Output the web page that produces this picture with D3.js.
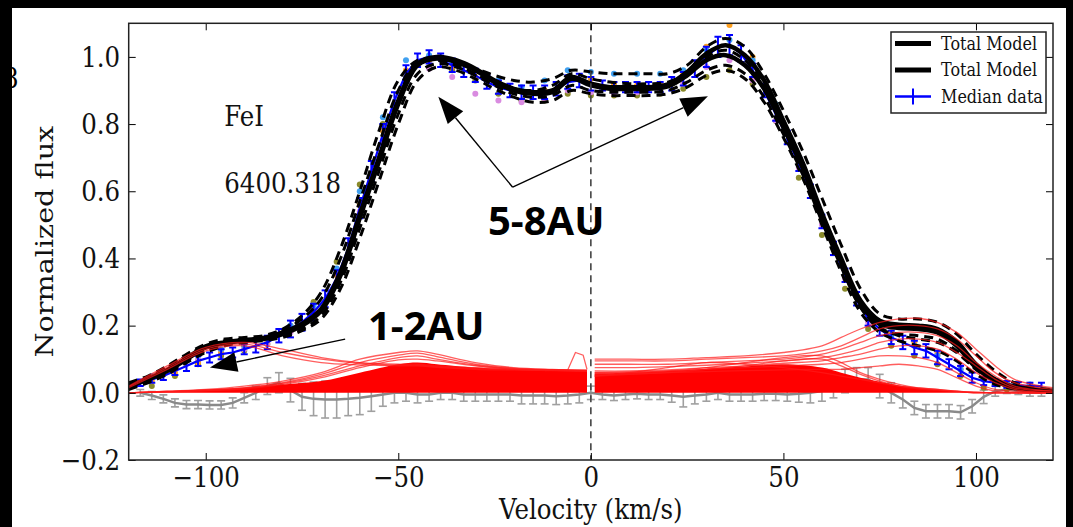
<!DOCTYPE html>
<html>
<head>
<meta charset="utf-8">
<script src="https://cdn.jsdelivr.net/npm/d3@7"></script>
<style>
  body { margin: 0; background: #000; }
  svg text { font-family: "DejaVu Serif", serif; }
</style>
</head>
<body>
<svg id="chart"></svg>
<script>
// ---- data ----
const xTicks = [-100, -50, 0, 50, 100];
const yTicks = [-0.2, 0.0, 0.2, 0.4, 0.6, 0.8, 1.0];

// model grid (km/s)
const modelV = [-120,-115,-110,-105,-100,-95,-90,-85,-80,-75,-70,-65,-60,-55,-50,-45,-40,-35,-30,-25,
  -20,-15,-10,-5,0,5,10,15,20,25,30,35,40,45,50,55,60,65,70,75,80,85,90,95,100,105,110,115,120];

// two "Total Model" curves (solid)
const totalModelA = [0.02,0.04,0.065,0.10,0.135, 0.148,0.155,0.16,0.175,0.20, 0.245,0.35,0.52,0.69,0.86,
  0.975,0.995,0.985,0.96,0.925, 0.90,0.89,0.895,0.935,0.915, 0.905,0.905,0.905,0.912,0.945,
  0.99,1.005,0.975,0.905,0.79, 0.67,0.52,0.39,0.265,0.205, 0.193,0.19,0.18,0.14,0.075, 0.035,0.015,0.008,0.005];
const totalModelB = [0.02,0.042,0.068,0.102,0.138, 0.15,0.157,0.163,0.18,0.205, 0.25,0.36,0.53,0.70,0.87,
  0.98,1.0,0.99,0.965,0.93, 0.905,0.895,0.9,0.94,0.92, 0.91,0.91,0.91,0.918,0.955,
  1.01,1.035,1.005,0.93,0.81, 0.685,0.535,0.4,0.275,0.215, 0.203,0.2,0.19,0.152,0.085, 0.04,0.018,0.01,0.006];

// per-epoch model fits (dashed)
const epochModel1 = [0.03,0.05,0.08,0.115,0.145, 0.16,0.165,0.17,0.19,0.23, 0.30,0.43,0.60,0.78,0.93,
  0.99,0.995,0.98,0.965,0.945, 0.93,0.925,0.935,0.96,0.955, 0.95,0.95,0.95,0.95,0.975,
  1.03,1.055,1.03,0.95,0.84, 0.72,0.58,0.44,0.31,0.235, 0.22,0.22,0.21,0.175,0.115, 0.065,0.03,0.015,0.01];
const epochModel2 = [0.01,0.03,0.055,0.09,0.12, 0.14,0.15,0.155,0.165,0.185, 0.22,0.31,0.46,0.63,0.80,
  0.93,0.97,0.96,0.935,0.905, 0.88,0.865,0.87,0.9,0.89, 0.885,0.885,0.885,0.89,0.91,
  0.945,0.96,0.935,0.865,0.76, 0.64,0.50,0.36,0.24,0.18, 0.155,0.14,0.125,0.095,0.055, 0.025,0.012,0.008,0.005];
const epochModel3 = [0.02,0.045,0.075,0.11,0.14, 0.155,0.16,0.165,0.185,0.22, 0.28,0.40,0.57,0.74,0.90,
  0.985,0.99,0.975,0.95,0.92, 0.905,0.90,0.915,0.95,0.935, 0.925,0.92,0.92,0.925,0.955,
  1.0,1.02,0.99,0.915,0.80, 0.67,0.52,0.38,0.255,0.195, 0.17,0.16,0.15,0.12,0.07, 0.035,0.015,0.01,0.006];
const epochModel4 = [0.015,0.035,0.06,0.095,0.125, 0.145,0.152,0.158,0.17,0.19, 0.23,0.33,0.49,0.66,0.83,
  0.95,0.98,0.97,0.945,0.915, 0.89,0.88,0.885,0.915,0.9, 0.895,0.895,0.895,0.9,0.925,
  0.96,0.975,0.95,0.88,0.77, 0.65,0.51,0.375,0.255,0.19, 0.175,0.17,0.16,0.125,0.07, 0.035,0.015,0.01,0.006];

// observed grid (km/s)
const obsV = [-117,-114,-111,-108,-105,-102,-99,-96,-93,-90,-87,-84,-81,-78,-75,-72,-69,-66,-63,-60,
  -57,-54,-51,-48,-45,-42,-39,-36,-33,-30,-27,-24,-21,-18,-15,-12,-9,-6,-3,0,
  3,6,9,12,15,18,21,24,27,30,33,36,39,42,45,48,51,54,57,60,
  63,66,69,72,75,78,81,84,87,90,93,96,99,102,105,108,111,114,117];

const medianFlux = [0.03,0.04,0.05,0.065,0.08,0.095,0.105,0.115,0.12,0.13,
  0.14,0.15,0.17,0.19,0.21,0.24,0.28,0.34,0.43,0.55,
  0.66,0.77,0.87,0.95,0.99,1.0,0.99,0.975,0.96,0.945,
  0.925,0.91,0.9,0.895,0.895,0.895,0.905,0.925,0.93,0.92,
  0.915,0.91,0.91,0.91,0.91,0.91,0.92,0.935,0.965,1.0,
  1.03,1.035,1.01,0.96,0.9,0.83,0.76,0.68,0.6,0.51,
  0.43,0.35,0.28,0.22,0.19,0.165,0.15,0.135,0.125,0.105,
  0.085,0.065,0.045,0.035,0.03,0.025,0.022,0.02,0.02];
const medianErr = [0.01,0.01,0.012,0.012,0.015,0.015,0.015,0.015,0.015,0.015,
  0.02,0.02,0.02,0.025,0.025,0.025,0.025,0.025,0.03,0.03,
  0.03,0.03,0.025,0.025,0.02,0.02,0.02,0.02,0.02,0.02,
  0.02,0.02,0.02,0.02,0.02,0.02,0.02,0.02,0.02,0.02,
  0.015,0.015,0.015,0.015,0.015,0.015,0.02,0.02,0.025,0.03,
  0.03,0.03,0.025,0.02,0.02,0.02,0.02,0.02,0.02,0.02,
  0.02,0.02,0.02,0.02,0.02,0.02,0.02,0.02,0.02,0.02,
  0.015,0.015,0.015,0.012,0.01,0.01,0.01,0.01,0.01];

const residFlux = [0.0,-0.008,-0.018,-0.03,-0.035,-0.035,-0.036,-0.036,-0.03,-0.015,
  0.0,0.02,0.03,0.008,-0.012,-0.018,-0.02,-0.02,-0.018,-0.015,
  -0.01,-0.005,0.0,0.0,-0.005,-0.005,0.0,0.0,-0.005,-0.005,
  -0.005,-0.005,-0.005,-0.008,-0.008,-0.008,-0.01,-0.008,-0.005,0.0,
  -0.005,-0.008,-0.005,-0.003,-0.005,-0.005,-0.008,-0.012,-0.008,-0.005,
  0.0,-0.005,-0.005,-0.005,-0.003,-0.003,-0.005,-0.003,0.0,0.005,
  0.02,0.035,0.04,0.04,0.02,0.0,-0.02,-0.045,-0.055,-0.055,
  -0.055,-0.058,-0.04,-0.012,0.005,0.01,0.005,0.0,0.0];
const residErr = [0.01,0.012,0.012,0.012,0.012,0.012,0.012,0.012,0.015,0.015,
  0.02,0.025,0.03,0.035,0.04,0.05,0.055,0.055,0.05,0.05,
  0.045,0.035,0.03,0.025,0.025,0.02,0.02,0.02,0.02,0.02,
  0.02,0.02,0.02,0.025,0.025,0.025,0.025,0.025,0.025,0.02,
  0.015,0.015,0.015,0.015,0.015,0.015,0.02,0.03,0.025,0.02,
  0.02,0.02,0.02,0.02,0.02,0.02,0.02,0.025,0.03,0.03,
  0.035,0.035,0.035,0.035,0.035,0.03,0.025,0.02,0.02,0.02,
  0.02,0.02,0.02,0.02,0.015,0.012,0.01,0.01,0.01];

// individual epochs (dots)
const dotV = [-114,-108,-102,-96,-90,-84,-78,-72,-66,-60,-54,-48,-42,-36,-30,-24,-18,-12,-6,0,
  6,12,18,24,30,36,42,48,54,60,66,72,78,84,90,96,102,108,114];
const epochSky = [0.05,0.075,0.11,0.13,0.14,0.16,0.2,0.26,0.37,0.6, 0.82,0.99,1.005,0.985,0.96,0.93,0.91,0.93,0.96,0.955,
  0.95,0.95,0.95,0.96,1.02,1.05,0.99,0.86,0.7,0.53, 0.36,0.23,0.17,0.14,0.11,0.07,0.04,0.03,0.025];
const epochOrange = [0.035,0.06,0.09,0.12,0.14,0.155,0.195,0.245,0.35,0.56, 0.78,0.96,0.99,0.97,0.94,0.915,0.9,0.9,0.93,0.935,
  0.92,0.915,0.92,0.95,1.03,1.095,1.0,0.86,0.69,0.52, 0.36,0.23,0.18,0.15,0.115,0.07,0.04,0.025,0.02];
const epochPink = [0.045,0.07,0.1,0.12,0.13,0.145,0.18,0.23,0.33,0.54, 0.75,0.93,0.965,0.94,0.89,0.87,0.865,0.875,0.9,0.895,
  0.89,0.895,0.9,0.92,0.97,0.99,0.93,0.81,0.67,0.5, 0.34,0.21,0.16,0.14,0.12,0.08,0.06,0.03,0.02];
const epochOlive = [0.02,0.05,0.085,0.11,0.125,0.145,0.2,0.27,0.39,0.62, 0.8,0.94,0.97,0.96,0.93,0.89,0.87,0.87,0.89,0.885,
  0.885,0.885,0.89,0.905,0.94,0.96,0.92,0.81,0.64,0.47, 0.31,0.19,0.14,0.11,0.085,0.05,0.015,0.01,0.01];

// ring components (red), blue-shifted half and red-shifted half
const redLeftV = [-120,-110,-100,-90,-80,-70,-60,-50,-45,-40,-30,-20,-10,-1];
const redBandLeft = [0,0.005,0.01,0.015,0.025,0.035,0.06,0.085,0.09,0.085,0.075,0.07,0.068,0.065];
const redLinesLeft = [
  [0.02,0.08,0.135,0.15,0.13,0.105,0.09,0.085,0.085,0.08,0.075,0.07,0.068,0.066],
  [0.018,0.075,0.13,0.145,0.12,0.1,0.088,0.082,0.082,0.078,0.072,0.069,0.067,0.065],
  [0.015,0.07,0.125,0.14,0.11,0.09,0.083,0.08,0.08,0.076,0.07,0.068,0.066,0.064],
  [0,0.005,0.01,0.02,0.035,0.06,0.1,0.12,0.125,0.115,0.09,0.075,0.07,0.068],
  [0,0.004,0.008,0.015,0.03,0.055,0.09,0.112,0.118,0.108,0.085,0.073,0.069,0.066],
  [0,0.004,0.008,0.015,0.028,0.05,0.08,0.105,0.11,0.1,0.082,0.072,0.068,0.066],
  [0,0.003,0.006,0.012,0.025,0.045,0.075,0.098,0.1,0.095,0.08,0.07,0.067,0.065]
];
const redSpike = [[-12,0.066],[-6,0.068],[-4,0.12],[-2,0.112],[-1,0.07]];

const redRightV = [1,10,20,30,40,50,60,65,70,75,80,85,90,95,100,105,110,120];
const redBandRight = [0.058,0.06,0.065,0.072,0.078,0.085,0.075,0.06,0.045,0.033,0.022,0.014,0.009,0.005,0.003,0.001,0,0];
const redLinesRight = [
  [0.1,0.1,0.1,0.105,0.11,0.12,0.14,0.165,0.19,0.21,0.22,0.222,0.21,0.18,0.13,0.08,0.04,0.015],
  [0.095,0.095,0.095,0.1,0.105,0.11,0.125,0.14,0.165,0.19,0.2,0.2,0.19,0.16,0.11,0.06,0.03,0.01],
  [0.085,0.085,0.085,0.09,0.095,0.1,0.115,0.13,0.15,0.17,0.18,0.18,0.17,0.14,0.09,0.05,0.02,0.005],
  [0.075,0.075,0.078,0.082,0.088,0.095,0.105,0.115,0.13,0.15,0.16,0.16,0.15,0.12,0.08,0.04,0.015,0.005],
  [0.065,0.065,0.068,0.075,0.08,0.088,0.095,0.105,0.115,0.13,0.14,0.14,0.13,0.1,0.06,0.03,0.01,0],
  [0.06,0.062,0.065,0.07,0.075,0.08,0.085,0.09,0.1,0.11,0.11,0.105,0.09,0.06,0.03,0.01,0.005,0],
  [0.055,0.057,0.06,0.063,0.066,0.068,0.07,0.07,0.075,0.08,0.085,0.08,0.07,0.045,0.02,0.005,0,0],
  [0.06,0.06,0.065,0.075,0.09,0.105,0.11,0.09,0.06,0.04,0.025,0.015,0.01,0.005,0,0,0,0],
  [0.05,0.055,0.06,0.07,0.08,0.095,0.1,0.08,0.055,0.035,0.02,0.012,0.008,0.004,0.002,0,0,0],
  [0.05,0.06,0.075,0.09,0.085,0.075,0.06,0.05,0.04,0.03,0.02,0.015,0.01,0.005,0,0,0,0]
];

// annotation anchors in data units [v, flux]
const arrowTail58 = [-20.3, 0.612];
const arrowTips58 = [[-39.6, 0.881], [30.4, 0.883]];
const arrowTail12 = [-63.8, 0.16];
const arrowTip12 = [-98.9, 0.075];

const K = 1.17; // the source figure was stretched vertically

class ProfilePlot {
  constructor(_config) {
    this.config = {
      parentElement: _config.parentElement,
      containerWidth: _config.containerWidth || 1073,
      containerHeight: _config.containerHeight || 527,
      margin: _config.margin || {top: 23.3, right: 20, bottom: 67, left: 128.7}
    };
    this.initVis();
  }

  initVis() {
    let vis = this;
    vis.width = vis.config.containerWidth - vis.config.margin.left - vis.config.margin.right;
    vis.height = vis.config.containerHeight - vis.config.margin.top - vis.config.margin.bottom;

    vis.xScale = d3.scaleLinear().domain([-120, 120]).range([0, vis.width]);
    vis.yScale = d3.scaleLinear().domain([-0.2, 1.1]).range([vis.height, 0]);

    vis.svg = d3.select(vis.config.parentElement)
        .attr('width', vis.config.containerWidth)
        .attr('height', vis.config.containerHeight);

    // black frame around the white page
    vis.svg.append('rect').attr('width', vis.config.containerWidth).attr('height', vis.config.containerHeight).attr('fill', '#000');
    vis.svg.append('rect').attr('x', 12).attr('y', 8).attr('width', 1054).attr('height', 519).attr('fill', '#fff');
    // cut-off panel letter from the neighbouring figure
    vis.svg.append('text').attr('transform', `translate(3,88) scale(1,${K})`)
        .attr('font-size', 24.5).attr('fill', '#000').text('8');

    vis.chart = vis.svg.append('g')
        .attr('transform', `translate(${vis.config.margin.left},${vis.config.margin.top})`);

    vis.chart.append('clipPath').attr('id', 'plot-clip')
      .append('rect').attr('width', vis.width).attr('height', vis.height);

    vis.plot = vis.chart.append('g').attr('clip-path', 'url(#plot-clip)');
  }

  errorBars(g, vs, fs, es, color, cap, lw) {
    let vis = this;
    const pts = vs.map((v, i) => ({v: v, f: fs[i], e: es[i]}));
    const eg = g.append('g').attr('stroke', color).attr('stroke-width', lw);
    eg.selectAll('.bar').data(pts).join('line')
        .attr('x1', d => vis.xScale(d.v)).attr('x2', d => vis.xScale(d.v))
        .attr('y1', d => vis.yScale(d.f - d.e)).attr('y2', d => vis.yScale(d.f + d.e));
    eg.selectAll('.capLo').data(pts).join('line')
        .attr('x1', d => vis.xScale(d.v) - cap).attr('x2', d => vis.xScale(d.v) + cap)
        .attr('y1', d => vis.yScale(d.f - d.e)).attr('y2', d => vis.yScale(d.f - d.e));
    eg.selectAll('.capHi').data(pts).join('line')
        .attr('x1', d => vis.xScale(d.v) - cap).attr('x2', d => vis.xScale(d.v) + cap)
        .attr('y1', d => vis.yScale(d.f + d.e)).attr('y2', d => vis.yScale(d.f + d.e));
  }

  renderVis() {
    let vis = this;
    const x = vis.xScale, y = vis.yScale;
    const zip = (vs, fs) => vs.map((v, i) => [v, fs[i]]);
    const smooth = d3.line().x(d => x(d[0])).y(d => y(d[1])).curve(d3.curveCatmullRom.alpha(0.5));
    const straight = d3.line().x(d => x(d[0])).y(d => y(d[1]));

    // residuals (grey)
    vis.errorBars(vis.plot, obsV, residFlux, residErr, '#a0a0a0', 4, 1.6);
    vis.plot.append('path').attr('d', straight(zip(obsV, residFlux)))
        .attr('fill', 'none').attr('stroke', '#8a8a8a').attr('stroke-width', 2.5);

    // individual epochs
    const epochs = [
      {vals: epochOlive, color: '#8a8a2a'},
      {vals: epochPink, color: '#d98be0'},
      {vals: epochOrange, color: '#ffa01e'},
      {vals: epochSky, color: '#3fa0f0'}
    ];
    epochs.forEach(ep => {
      vis.plot.append('g').selectAll('circle').data(zip(dotV, ep.vals)).join('circle')
          .attr('cx', d => x(d[0])).attr('cy', d => y(d[1])).attr('r', 3)
          .attr('fill', ep.color);
    });

    // median data
    vis.errorBars(vis.plot, obsV, medianFlux, medianErr, '#0000ff', 3.5, 2);
    vis.plot.append('path').attr('d', straight(zip(obsV, medianFlux)))
        .attr('fill', 'none').attr('stroke', '#0000ff').attr('stroke-width', 2.2);

    // per-epoch fits (dashed)
    [epochModel1, epochModel2, epochModel3, epochModel4].forEach(m => {
      vis.plot.append('path').attr('d', smooth(zip(modelV, m)))
          .attr('fill', 'none').attr('stroke', '#000').attr('stroke-width', 3)
          .attr('stroke-dasharray', '9,6');
    });

    // total models
    [totalModelA, totalModelB].forEach(m => {
      vis.plot.append('path').attr('d', smooth(zip(modelV, m)))
          .attr('fill', 'none').attr('stroke', '#000').attr('stroke-width', 4.5);
    });

    // ring components (red)
    const area = d3.area().x(d => x(d[0])).y0(y(0)).y1(d => y(d[1])).curve(d3.curveCatmullRom.alpha(0.5));
    vis.plot.append('path').attr('d', area(zip(redLeftV, redBandLeft))).attr('fill', '#ff0000');
    vis.plot.append('path').attr('d', area(zip(redRightV, redBandRight))).attr('fill', '#ff0000');
    const redG = vis.plot.append('g').attr('fill', 'none').attr('stroke', '#ff1a1a')
        .attr('stroke-width', 1.3).attr('stroke-opacity', 0.7);
    redLinesLeft.forEach(l => redG.append('path').attr('d', smooth(zip(redLeftV, l))));
    redLinesRight.forEach(l => redG.append('path').attr('d', smooth(zip(redRightV, l))));
    redG.append('path').attr('d', straight(redSpike));

    // v = 0 marker
    vis.plot.append('line')
        .attr('x1', x(0)).attr('x2', x(0)).attr('y1', 0).attr('y2', vis.height)
        .attr('stroke', '#444').attr('stroke-width', 1.6).attr('stroke-dasharray', '7,5');

    // axes, ticks inside on all four sides
    const fmtY = d3.format('.1f');
    const xAxis = d3.axisBottom(x).tickValues(xTicks).tickSizeInner(-7).tickSizeOuter(0).tickPadding(7);
    const xAxisTop = d3.axisTop(x).tickValues(xTicks).tickSizeInner(-7).tickSizeOuter(0).tickFormat('');
    const yAxis = d3.axisLeft(y).tickValues(yTicks).tickSizeInner(-7).tickSizeOuter(0).tickPadding(8.5).tickFormat(fmtY);
    const yAxisRight = d3.axisRight(y).tickValues(yTicks).tickSizeInner(-7).tickSizeOuter(0).tickFormat('');

    const axisStyle = g => {
      g.select('.domain').remove();
      g.attr('font-family', null).attr('font-size', 24.5);
      g.selectAll('.tick line').attr('stroke', '#000').attr('stroke-width', 1);
      g.selectAll('.tick text').attr('fill', '#111').each(function() {
        const t = d3.select(this);
        const tx = +t.attr('x') || 0, ty = +t.attr('y') || 0;
        t.attr('x', 0).attr('y', 0).attr('transform', `translate(${tx},${ty}) scale(1,${K})`);
      });
    };
    vis.chart.append('g').attr('transform', `translate(0,${vis.height})`).call(xAxis).call(axisStyle);
    vis.chart.append('g').call(xAxisTop).call(axisStyle);
    vis.chart.append('g').call(yAxis).call(axisStyle);
    vis.chart.append('g').attr('transform', `translate(${vis.width},0)`).call(yAxisRight).call(axisStyle);

    vis.chart.append('rect').attr('width', vis.width).attr('height', vis.height)
        .attr('fill', 'none').attr('stroke', '#222').attr('stroke-width', 1.5);

    // axis titles
    vis.chart.append('text')
        .attr('transform', `translate(${vis.width / 2},${496}) scale(1,${K})`)
        .attr('text-anchor', 'middle').attr('font-size', 24.5).attr('fill', '#111')
        .text('Velocity (km/s)');
    vis.chart.append('text')
        .attr('transform', `translate(${53 - vis.config.margin.left},${vis.height / 2}) rotate(-90) scale(${K},1)`)
        .attr('text-anchor', 'middle').attr('font-size', 24.5).attr('fill', '#111')
        .text('Normalized flux');

    // line labels
    vis.chart.append('text').attr('transform', `translate(${x(-95.2)},${y(0.793)}) scale(1,${K})`)
        .attr('font-size', 24.5).attr('fill', '#111').text('FeI');
    vis.chart.append('text').attr('transform', `translate(${x(-95.2)},${y(0.596)}) scale(1,${K})`)
        .attr('font-size', 24.5).attr('fill', '#111').text('6400.318');

    // arrows
    const arrow = (tail, tip) => {
      const x0 = x(tail[0]), y0 = y(tail[1]), x1 = x(tip[0]), y1 = y(tip[1]);
      const ang = Math.atan2(y1 - y0, x1 - x0);
      const L = 27, hw = 10;
      const bx = x1 - L * Math.cos(ang), by = y1 - L * Math.sin(ang);
      vis.chart.append('line').attr('x1', x0).attr('y1', y0).attr('x2', bx).attr('y2', by)
          .attr('stroke', '#000').attr('stroke-width', 1.4);
      const px = -Math.sin(ang) * hw, py = Math.cos(ang) * hw;
      vis.chart.append('path')
          .attr('d', `M${x1},${y1}L${bx + px},${by + py}L${bx - px},${by - py}Z`)
          .attr('fill', '#000');
    };
    arrowTips58.forEach(t => arrow(arrowTail58, t));
    arrow(arrowTail12, arrowTip12);

    const bold = vis.chart.append('g').attr('font-weight', 700).attr('font-size', 40).attr('fill', '#000');
    bold.append('text').attr('x', 488 - vis.config.margin.left).attr('y', 235 - vis.config.margin.top)
        .style('font-family', '"Open Sans", "Noto Sans", sans-serif').text('5-8AU');
    bold.append('text').attr('x', 368 - vis.config.margin.left).attr('y', 340 - vis.config.margin.top)
        .style('font-family', '"Open Sans", "Noto Sans", sans-serif').text('1-2AU');

    // legend
    const lg = vis.svg.append('g');
    lg.append('rect').attr('x', 891).attr('y', 32).attr('width', 155).attr('height', 81)
        .attr('fill', '#fff').attr('stroke', '#222').attr('stroke-width', 1.5);
    const items = [
      {label: 'Total Model', color: '#000', err: false},
      {label: 'Total Model', color: '#000', err: false},
      {label: 'Median data', color: '#0000ff', err: true}
    ];
    items.forEach((it, i) => {
      const cy = 43.5 + i * 26.5;
      lg.append('line').attr('x1', 895).attr('x2', 931).attr('y1', cy).attr('y2', cy)
          .attr('stroke', it.color).attr('stroke-width', it.err ? 2.5 : 5);
      if (it.err) {
        lg.append('line').attr('x1', 913).attr('x2', 913).attr('y1', cy - 8).attr('y2', cy + 8)
            .attr('stroke', it.color).attr('stroke-width', 2);
      }
      lg.append('text').attr('transform', `translate(941,${cy + 6}) scale(1,${K})`)
          .attr('font-size', 16).attr('fill', '#111').text(it.label);
    });
  }
}

const plot = new ProfilePlot({parentElement: '#chart'});
plot.renderVis();
</script>
</body>
</html>
